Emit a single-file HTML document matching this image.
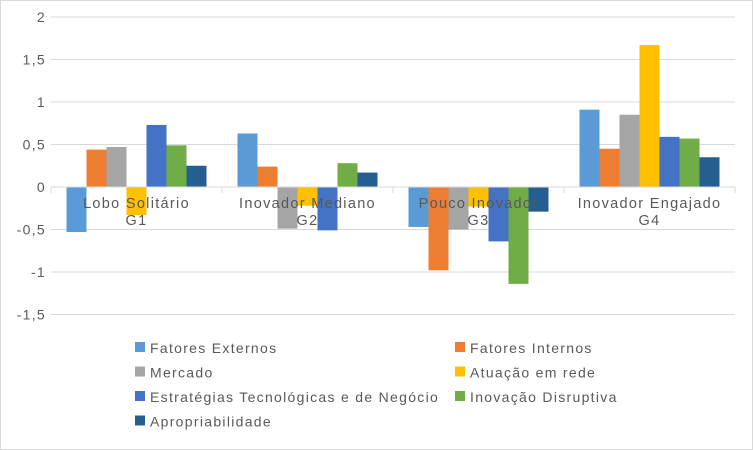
<!DOCTYPE html>
<html><head><meta charset="utf-8"><style>
body{margin:0;background:#fff;font-family:"Liberation Sans",sans-serif}
#c{position:absolute;left:0;top:0;width:751px;height:448px;border:1px solid #d9d9d9}
text{letter-spacing:1.3px}
</style></head><body>
<div id="c"></div>
<svg id="s" width="753" height="450" style="position:absolute;left:0;top:0"></svg>
<script>
const categories=["Lobo Solitário|G1","Inovador Mediano|G2","Pouco Inovador|G3","Inovador Engajado|G4"];
const seriesNames=["Fatores Externos","Fatores Internos","Mercado","Atuação em rede","Estratégias Tecnológicas e de Negócio","Inovação Disruptiva","Apropriabilidade"];
const colors=["#5b9bd5","#ed7d31","#a5a5a5","#ffc000","#4472c4","#70ad47","#255e91"];
const fe=[-0.53,0.63,-0.47,0.91];
const fi=[0.44,0.24,-0.98,0.45];
const me=[0.47,-0.49,-0.5,0.85];
const ar=[-0.33,-0.22,-0.23,1.67];
const etn=[0.73,-0.51,-0.64,0.59];
const idr=[0.49,0.28,-1.14,0.57];
const ap=[0.25,0.17,-0.29,0.35];
const series=[fe,fi,me,ar,etn,idr,ap];
const ticks=[2,1.5,1,0.5,0,-0.5,-1,-1.5];
const tickLabels=["2","1,5","1","0,5","0","-0,5","-1","-1,5"];
const NS="http://www.w3.org/2000/svg",s=document.getElementById('s');
const x0=51,x1=735,gw=(x1-x0)/4,bw=20;
const y=v=>187-v*85;
function el(t,a,p){const e=document.createElementNS(NS,t);for(const k in a)e.setAttribute(k,a[k]);(p||s).appendChild(e);return e;}
ticks.forEach((t,i)=>{
 if(t!==0){const l=el('line',{x1:x0,x2:x1,y1:y(t),y2:y(t),stroke:'#d9d9d9'});
 
 }
 const tx=el('text',{x:46,y:y(t)+5,'text-anchor':'end','font-size':14,fill:'#595959'});tx.textContent=tickLabels[i];
 
 
});
series.forEach((arr,si)=>{arr.forEach((v,ci)=>{
 const bx=x0+ci*gw+(gw-7*bw)/2+si*bw;
 const r=el('rect',{x:bx,y:Math.min(y(v),y(0)),width:bw,height:Math.abs(y(v)-y(0)),fill:colors[si]});
 
 
});});
const ax=el('line',{x1:x0,x2:x1,y1:187,y2:187,stroke:'#d9d9d9'});


for(let i=0;i<=4;i++){const tk=el('line',{x1:x0+i*gw,x2:x0+i*gw,y1:187,y2:193,stroke:'#d9d9d9'});
 
 }
categories.forEach((c,i)=>{const p=c.split('|');p.forEach((t,j)=>{
 const tx=el('text',{x:x0+(i+0.5)*gw,y:208+j*17,'text-anchor':'middle','font-size':14.5,fill:'#595959'});tx.textContent=t;
 
 });});
seriesNames.forEach((n,i)=>{
 const col=i%2,row=Math.floor(i/2);const lx=col?455:135,ly=342+row*24.5;
 const r=el('rect',{x:lx,y:ly,width:10,height:10,fill:colors[i]});
 
 
 const tx=el('text',{x:lx+15,y:ly+11,'font-size':14,fill:'#595959'});tx.textContent=n;
 
 
});
</script></body></html>
